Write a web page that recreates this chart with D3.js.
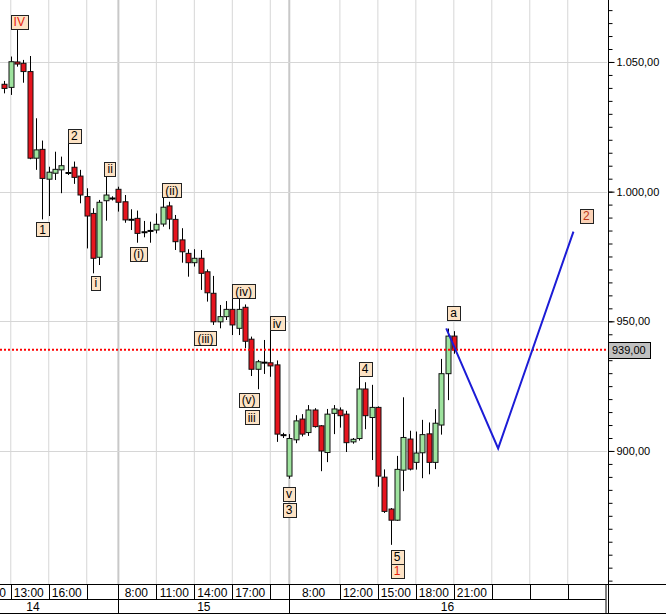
<!DOCTYPE html>
<html><head><meta charset="utf-8">
<script src="https://cdn.jsdelivr.net/npm/d3@7"></script>
<style>html,body{margin:0;padding:0;background:#fff;} svg{display:block;font-family:"Liberation Sans",Arial,sans-serif;}</style>
</head><body><svg id="c" width="666" height="614"></svg>
<script>
// ---------------- DATA ----------------
const days = ["14", "15", "16"];
const candleTimes = [
 "14 12:30","14 13:00","14 13:30","14 14:00","14 14:30","14 15:00","14 15:30","14 16:00","14 16:30",
 "14 17:00","14 17:30","14 18:00","14 18:30","14 19:00","14 19:30","14 20:00","14 20:30","14 21:00",
 "15 8:00","15 8:30","15 9:00","15 9:30","15 10:00","15 10:30","15 11:00","15 11:30","15 12:00",
 "15 12:30","15 13:00","15 13:30","15 14:00","15 14:30","15 15:00","15 15:30","15 16:00","15 16:30",
 "15 17:00","15 17:30","15 18:00","15 18:30","15 19:00","15 19:30","15 20:00","15 20:30","15 21:00",
 "16 8:00","16 8:30","16 9:00","16 9:30","16 10:00","16 10:30","16 11:00","16 11:30","16 12:00",
 "16 12:30","16 13:00","16 13:30","16 14:00","16 14:30","16 15:00","16 15:30","16 16:00","16 16:30",
 "16 17:00","16 17:30","16 18:00","16 18:30","16 19:00","16 19:30","16 20:00","16 20:30","16 21:00"
];
const openP = [
 1041.4,1040.2,1050.0,1049.5,1046.3,1012.9,1016.3,1004.8,1007.1,1008.4,1007.4,1009.4,1006.0,998.1,991.6,974.7,996.5,997.2,
 1000.9,996.1,989.2,989.7,984.4,984.9,985.2,987.5,994.5,989.3,981.4,976.2,972.6,974.3,969.1,960.8,949.8,951.8,
 954.6,947.3,955.4,943.1,931.5,934.1,934.0,933.2,905.9,
 890.3,904.3,912.3,907.1,915.8,909.7,899.4,914.5,915.8,914.2,903.5,904.8,923.9,912.9,916.8,889.9,877.6,873.3,
 892.6,904.6,895.6,899.3,906.6,895.6,910.0,929.8,944.3
];
const highP = [
 1042.7,1052.1,1062.3,1050.8,1052.3,1028.3,1019.7,1009.6,1015.4,1013.5,1018.9,1011.6,1008.4,1001.3,993.6,996.8,1006.2,998.2,
 1001.9,998.7,993.2,992.7,988.7,988.4,991.6,997.8,996.1,991.0,985.9,977.8,977.8,977.5,970.0,967.5,956.3,957.8,
 958.9,959.2,956.5,944.1,935.1,942.8,946.6,934.9,907.0,
 906.5,913.8,914.2,917.7,916.5,910.0,916.2,917.7,916.8,915.5,905.0,929.3,926.5,925.5,917.2,892.9,878.0,898.1,
 920.7,907.8,907.5,912.0,911.0,916.1,935.5,947.2,946.2
];
const lowP = [
 1037.9,1037.3,1048.2,1042.0,1012.5,1008.4,989.3,990.6,1004.5,999.4,1006.4,1003.0,995.5,978.1,968.5,971.7,988.8,996.6,
 992.3,988.0,985.2,980.3,982.4,980.3,983.9,986.5,985.5,977.5,972.6,967.2,971.1,962.1,957.6,948.6,947.3,950.5,
 944.7,944.7,939.6,928.9,923.8,929.7,928.6,903.5,905.0,
 889.3,903.0,905.6,905.8,909.0,892.2,895.7,906.5,909.0,899.6,902.8,904.0,908.4,896.5,886.2,876.1,863.8,873.0,
 884.5,892.5,892.8,889.5,891.0,893.0,906.3,919.6,937.5
];
const closeP = [
 1039.8,1050.1,1049.2,1046.3,1012.9,1016.1,1005.1,1007.5,1008.6,1010.0,1007.0,1005.5,998.7,990.6,974.3,995.9,998.7,997.5,
 995.9,989.1,989.1,983.9,984.3,984.8,987.4,994.0,989.4,980.7,976.8,972.6,974.3,968.5,961.0,949.8,951.8,954.6,
 948.6,954.6,942.3,931.5,934.4,934.0,932.8,906.5,906.3,
 904.8,911.6,906.5,915.8,909.4,900.0,914.2,916.2,913.6,903.2,904.5,923.9,913.6,916.8,890.3,876.7,873.3,892.9,
 905.2,893.0,899.2,906.3,895.6,910.7,929.8,944.3,939.0
];
const lastPrice = 939.0;

// time axis ticks (day, hour, label)
const tickDay   = ["14","14","14","14","15","15","15","15","15","16","16","16","16","16","16","16","16"];
const tickHour  = [10,13,16,19,8,11,14,17,20,8,12,15,18,21,24,27,30];
const tickLabel = ["10:00","13:00","16:00","","8:00","11:00","14:00","17:00","","8:00","12:00","15:00","18:00","21:00","","",""];

// price axis
const majorStep = 50, minorStep = 5;
const priceLabels = [900, 950, 1000, 1050];

// Elliott wave labels (text, anchor time, anchor price)
const waveText  = ["IV","2","1","ii","i","(i)","(ii)","(iii)","(iv)","(v)","iii","iv","v","3","4","5","1","a","2"];
const waveDay   = ["14","14","14","14","14","15","15","15","15","15","15","15","15","15","16","16","16","16","16"];
const waveHour  = [13.67,18.02,15.51,20.85,19.71,9.6,12.23,14.88,17.9,18.29,18.53,20.53,21.48,21.48,13.98,16.51,16.51,20.99,31.46];
const wavePrice = [1065.5,1021.5,985.5,1008.7,964.8,976.1,1000.5,943.4,961.6,919.6,913.0,949.2,883.5,877.2,931.6,859.3,853.9,953.3,990.6];
const waveMajor = [true,false,false,false,false,false,false,false,false,false,false,false,false,false,false,false,true,false,true];

// projected path (day, hour, price)
const projDay   = ["16","16","16"];
const projHour  = [20.4,24.5,30.45];
const projPrice = [947.3,901.0,984.6];

// ---------------- LAYOUT ----------------
const W = 666, H = 614;
const plotR = 607, plotB = 584, rowMid = 599, rowB = 613;
const sessOpen = 8, sessLen = 13.5;
const toT = (d, h) => days.indexOf(d) * sessLen + (h - sessOpen);
const parseT = s => { const [d, hm] = s.split(" "); const [h, m] = hm.split(":").map(Number); return toT(d, h + m / 60); };

const x = d3.scaleLinear().domain([4.148, 52.1]).range([0, plotR]);
const y = d3.scaleLinear().domain([848.7, 1073.9]).range([plotB, 0]);

const svg = d3.select("#c");
const loc = d3.formatLocale({decimal: ",", thousands: ".", grouping: [3], currency: ["", ""]});
const fmt = loc.format(",.2f");

// gridlines
const gGrid = svg.append("g");
const tickT = tickHour.map((h, i) => toT(tickDay[i], h));
const isDayStart = tickHour.map((h, i) => h === sessOpen);
gGrid.selectAll("line.v").data(tickT).join("line")
  .attr("x1", d => x(d)).attr("x2", d => x(d)).attr("y1", 0).attr("y2", plotB)
  .attr("stroke", (d, i) => isDayStart[i] ? "#c8c8c8" : "#d6d6d6")
  .attr("stroke-width", (d, i) => isDayStart[i] ? 2 : 1);
const majors = d3.range(Math.ceil(848.7 / majorStep) * majorStep, 1073.9, majorStep);
gGrid.selectAll("line.h").data(priceLabels).join("line")
  .attr("x1", 0).attr("x2", plotR).attr("y1", d => Math.round(y(d)) + 0.5).attr("y2", d => Math.round(y(d)) + 0.5)
  .attr("stroke", "#d6d6d6");

// candles
const candles = candleTimes.map((s, i) => ({t: parseT(s), o: openP[i], h: highP[i], l: lowP[i], c: closeP[i]}));
const bw = 5;
const gC = svg.append("g");
const cg = gC.selectAll("g").data(candles).join("g");
cg.append("line")
  .attr("x1", d => Math.round(x(d.t)) + 0.5).attr("x2", d => Math.round(x(d.t)) + 0.5)
  .attr("y1", d => y(d.h)).attr("y2", d => y(d.l)).attr("stroke", "#000");
cg.each(function(d) {
  const g = d3.select(this);
  const cx = Math.round(x(d.t)) + 0.5;
  const top = y(Math.max(d.o, d.c)), bot = y(Math.min(d.o, d.c));
  if (bot - top < 1.5) {
    g.append("line").attr("x1", cx - 3).attr("x2", cx + 3).attr("y1", (top + bot) / 2).attr("y2", (top + bot) / 2)
      .attr("stroke", "#000").attr("stroke-width", 2);
  } else {
    g.append("rect").attr("x", cx - bw / 2).attr("y", top).attr("width", bw).attr("height", bot - top)
      .attr("fill", d.c >= d.o ? "#9ee39e" : "#e6141e").attr("stroke", "#111").attr("stroke-width", 1);
  }
});

// last price dotted line
svg.append("line").attr("x1", 0).attr("x2", plotR).attr("y1", y(lastPrice)).attr("y2", y(lastPrice))
  .attr("stroke", "#ff0000").attr("stroke-width", 2).attr("stroke-dasharray", "2,2");

// projection
const proj = projHour.map((h, i) => [x(toT(projDay[i], h)), y(projPrice[i])]);
svg.append("path").attr("d", d3.line()(proj)).attr("fill", "none").attr("stroke", "#1c1cd6").attr("stroke-width", 2);

// wave labels
const gL = svg.append("g").attr("font-size", 12);
waveText.forEach((txt, i) => {
  const cx = x(toT(waveDay[i], waveHour[i])), cy = y(wavePrice[i]);
  const g = gL.append("g");
  const t = g.append("text").attr("x", cx).attr("y", cy).attr("dy", "0.36em").attr("text-anchor", "middle")
    .attr("fill", waveMajor[i] ? (txt === "2" ? "#c0381a" : "#e8200c") : "#000").text(txt);
  const w = t.node().getComputedTextLength() + 6;
  g.insert("rect", "text").attr("x", Math.round(cx - w / 2) + 0.5).attr("y", Math.round(cy - 7) + 0.5)
    .attr("width", Math.round(w)).attr("height", 14)
    .attr("fill", (txt === "2" && waveMajor[i]) ? "#fbd2b6" : "#fde3c5").attr("stroke", "#222");
});

// right axis
const gA = svg.append("g").attr("transform", `translate(${plotR + 1.5},0)`);
const minors = d3.range(Math.ceil(848.7 / minorStep) * minorStep, 1073.9, minorStep);
gA.call(d3.axisRight(y).tickValues(minors).tickSize(4).tickFormat(""))
  .call(g => g.select(".domain").remove());
gA.append("g").call(d3.axisRight(y).tickValues(priceLabels).tickSize(6).tickPadding(2).tickFormat(fmt))
  .call(g => g.select(".domain").remove())
  .call(g => g.selectAll("text").attr("font-size", 11).attr("font-family", '"Liberation Sans",Arial,sans-serif').attr("fill", "#000"));
svg.append("line").attr("x1", plotR + 1.5).attr("x2", plotR + 1.5).attr("y1", 0).attr("y2", rowB).attr("stroke", "#000");

// last price box
const ly = y(lastPrice);
svg.append("rect").attr("x", plotR + 1.5).attr("y", Math.round(ly - 8) + 0.5).attr("width", 42).attr("height", 16)
  .attr("fill", "#c0c0c0").attr("stroke", "#000");
svg.append("text").attr("x", plotR + 5).attr("y", ly).attr("dy", "0.36em").attr("font-size", 11).text(fmt(lastPrice));

// bottom time/day rows
const gB = svg.append("g");
const rowR = plotR - 1.5;
gB.append("rect").attr("x", 0).attr("y", plotB).attr("width", W).attr("height", rowB - plotB).attr("fill", "#fff");
gB.append("line").attr("x1", 0).attr("x2", W).attr("y1", plotB + 0.5).attr("y2", plotB + 0.5).attr("stroke", "#000");
gB.append("line").attr("x1", 0).attr("x2", W).attr("y1", rowB + 0.5).attr("y2", rowB + 0.5).attr("stroke", "#000");
gB.append("line").attr("x1", 0).attr("x2", rowR).attr("y1", rowMid + 0.5).attr("y2", rowMid + 0.5).attr("stroke", "#000");
gB.append("line").attr("x1", rowR + 0.5).attr("x2", rowR + 0.5).attr("y1", plotB).attr("y2", rowB).attr("stroke", "#000");
gB.append("line").attr("x1", plotR + 1.5).attr("x2", plotR + 1.5).attr("y1", plotB).attr("y2", rowB).attr("stroke", "#000");
tickT.forEach((t, i) => {
  const x0 = Math.round(x(t)) + 0.5;
  if (x0 >= 0 && x0 <= rowR) {
    gB.append("line").attr("x1", x0).attr("x2", x0).attr("y1", plotB).attr("y2", isDayStart[i] ? rowB : rowMid).attr("stroke", "#000");
  }
  const x1 = i + 1 < tickT.length ? x(tickT[i + 1]) : rowR;
  if (tickLabel[i]) gB.append("text").attr("x", (x(t) + x1) / 2 - 1).attr("y", (plotB + rowMid) / 2 + 1).attr("dy", "0.36em")
    .attr("text-anchor", "middle").attr("font-size", 12).text(tickLabel[i]);
});
days.forEach((d, i) => {
  const a = x(toT(d, sessOpen)), b = i + 1 < days.length ? x(toT(days[i + 1], sessOpen)) : rowR;
  gB.append("text").attr("x", (a + b) / 2).attr("y", (rowMid + rowB) / 2 + 1).attr("dy", "0.36em")
    .attr("text-anchor", "middle").attr("font-size", 12).text(d);
});
</script></body></html>
